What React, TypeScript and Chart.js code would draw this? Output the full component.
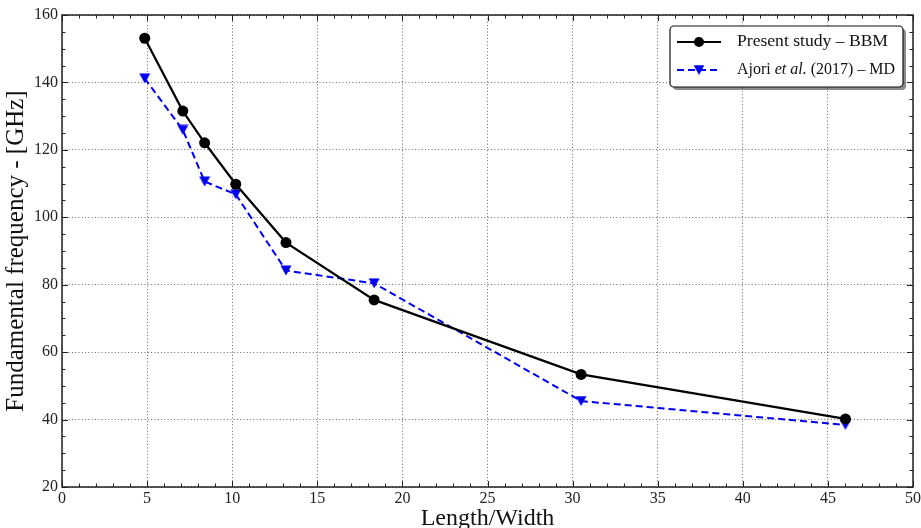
import React, { useEffect, useRef } from 'react';
import { Chart, registerables } from 'chart.js';

Chart.register(...registerables);

// ---- data ----
const lengthWidth = [4.86, 7.1, 8.38, 10.21, 13.16, 18.34, 30.5, 46.03];
const presentStudy = [153.1, 131.5, 122.1, 109.8, 92.5, 75.5, 53.4, 40.2];
const ajori = [141.2, 125.9, 110.6, 106.8, 84.2, 80.4, 45.5, 38.4];
const seriesLabels = ['Present study – BBM', 'Ajori et al. (2017) – MD'];
const xTickValues = [0, 5, 10, 15, 20, 25, 30, 35, 40, 45, 50];
const yTickValues = [20, 40, 60, 80, 100, 120, 140, 160];
const xMinorStep = 1;
const yMinorStep = 5;
const xTitle = 'Length/Width';
const yTitle = 'Fundamental frequency - [GHz]';

// ---- styles ----
const BLUE = '#0000f0';
const BLACK = '#000000';
const SERIF = '"Liberation Serif", "DejaVu Serif", serif';

export default function App() {
  const ref = useRef<HTMLCanvasElement>(null);

  useEffect(() => {
    const canvas = ref.current!;

    // down-pointing triangle marker, centred on its bounding box
    const tri = document.createElement('canvas');
    tri.width = 12;
    tri.height = 11;
    const tctx = tri.getContext('2d')!;
    tctx.fillStyle = BLUE;
    tctx.beginPath();
    tctx.moveTo(0.5, 0.5);
    tctx.lineTo(11.5, 0.5);
    tctx.lineTo(6, 10.5);
    tctx.closePath();
    tctx.fill();

    const decorPlugin = {
      id: 'decor',
      afterDraw(chart: any) {
        const ctx = chart.ctx as CanvasRenderingContext2D;
        const { left, right, top, bottom } = chart.chartArea;
        const xs = chart.scales.x;
        const ys = chart.scales.y;
        ctx.save();
        // inward ticks on all four sides
        ctx.strokeStyle = '#222';
        ctx.lineWidth = 1;
        ctx.beginPath();
        for (let v = xs.min; v <= xs.max + 1e-9; v += xMinorStep) {
          const major = xTickValues.includes(v);
          const len = major ? 6 : 3.5;
          const px = Math.round(xs.getPixelForValue(v)) + 0.5;
          ctx.moveTo(px, bottom);
          ctx.lineTo(px, bottom - len);
          ctx.moveTo(px, top);
          ctx.lineTo(px, top + len);
        }
        for (let v = ys.min; v <= ys.max + 1e-9; v += yMinorStep) {
          const major = yTickValues.includes(v);
          const len = major ? 6 : 3.5;
          const py = Math.round(ys.getPixelForValue(v)) + 0.5;
          ctx.moveTo(left, py);
          ctx.lineTo(left + len, py);
          ctx.moveTo(right, py);
          ctx.lineTo(right - len, py);
        }
        ctx.stroke();
        // frame
        ctx.lineWidth = 1.5;
        ctx.strokeStyle = '#222';
        ctx.strokeRect(left, top, right - left, bottom - top);

        // legend
        const bw = 233;
        const bh = 61;
        const bx = right - 10 - bw;
        const by = top + 11;
        const rr = 4;
        const rrect = (x: number, y: number) => {
          ctx.beginPath();
          ctx.moveTo(x + rr, y);
          ctx.lineTo(x + bw - rr, y);
          ctx.arcTo(x + bw, y, x + bw, y + rr, rr);
          ctx.lineTo(x + bw, y + bh - rr);
          ctx.arcTo(x + bw, y + bh, x + bw - rr, y + bh, rr);
          ctx.lineTo(x + rr, y + bh);
          ctx.arcTo(x, y + bh, x, y + bh - rr, rr);
          ctx.lineTo(x, y + rr);
          ctx.arcTo(x, y, x + rr, y, rr);
          ctx.closePath();
        };
        ctx.fillStyle = 'rgba(0,0,0,0.45)';
        rrect(bx + 3, by + 3);
        ctx.fill();
        ctx.fillStyle = '#fff';
        rrect(bx, by);
        ctx.fill();
        ctx.lineWidth = 1.2;
        ctx.strokeStyle = '#111';
        ctx.stroke();

        const rows = [by + 16, by + 44];
        const sx0 = bx + 7;
        const sx1 = bx + 51;
        const mx = bx + 29;
        // row 1
        ctx.lineWidth = 2;
        ctx.strokeStyle = BLACK;
        ctx.setLineDash([]);
        ctx.beginPath();
        ctx.moveTo(sx0, rows[0]);
        ctx.lineTo(sx1, rows[0]);
        ctx.stroke();
        ctx.fillStyle = BLACK;
        ctx.beginPath();
        ctx.arc(mx, rows[0], 5, 0, Math.PI * 2);
        ctx.fill();
        // row 2
        ctx.strokeStyle = BLUE;
        ctx.setLineDash([7, 4]);
        ctx.beginPath();
        ctx.moveTo(sx0, rows[1]);
        ctx.lineTo(sx1, rows[1]);
        ctx.stroke();
        ctx.setLineDash([]);
        ctx.drawImage(tri, mx - tri.width / 2, rows[1] - tri.height / 2);

        // texts, fitted horizontally to the reference widths
        const tx = bx + 67;
        const normal = `17px ${SERIF}`;
        const italic = `italic 17px ${SERIF}`;
        const drawFitted = (parts: [string, string][], x: number, y: number, target: number) => {
          let total = 0;
          for (const [t, f] of parts) {
            ctx.font = f;
            total += ctx.measureText(t).width;
          }
          const sx = target / total;
          ctx.save();
          ctx.translate(x, y);
          ctx.scale(sx, 1);
          let cx = 0;
          for (const [t, f] of parts) {
            ctx.font = f;
            ctx.fillText(t, cx, 0);
            cx += ctx.measureText(t).width;
          }
          ctx.restore();
        };
        ctx.fillStyle = '#111';
        ctx.textBaseline = 'middle';
        ctx.textAlign = 'left';
        drawFitted([[seriesLabels[0], normal]], tx, rows[0], 151);
        const lab = seriesLabels[1];
        const ital = 'et al.';
        const idx = lab.indexOf(ital);
        drawFitted(
          [
            [lab.slice(0, idx), normal],
            [ital, italic],
            [lab.slice(idx + ital.length), normal],
          ],
          tx,
          rows[1],
          158,
        );
        ctx.restore();
      },
    };

    const chart = new Chart(canvas, {
      type: 'line',
      data: {
        datasets: [
          {
            label: seriesLabels[0],
            data: lengthWidth.map((x, i) => ({ x, y: presentStudy[i] })),
            borderColor: BLACK,
            backgroundColor: BLACK,
            borderWidth: 2.2,
            pointRadius: 5.5,
            pointStyle: 'circle',
            pointBorderWidth: 0,
            tension: 0,
          },
          {
            label: seriesLabels[1],
            data: lengthWidth.map((x, i) => ({ x, y: ajori[i] })),
            borderColor: BLUE,
            backgroundColor: BLUE,
            borderWidth: 2,
            borderDash: [7, 4],
            pointRadius: 6,
            pointStyle: tri,
            tension: 0,
          },
        ],
      },
      options: {
        animation: false,
        responsive: false,
        events: [],
        layout: { padding: { top: 15, right: 8, left: 0, bottom: 0 } },
        plugins: {
          legend: { display: false },
          tooltip: { enabled: false },
        },
        scales: {
          x: {
            type: 'linear',
            min: 0,
            max: 50,
            afterBuildTicks: (s: any) => {
              s.ticks = xTickValues.map((v) => ({ value: v }));
            },
            afterFit: (s: any) => {
              s.height = 41;
              s.paddingLeft = 0;
              s.paddingRight = 0;
            },
            grid: {
              color: 'rgba(0,0,0,0.6)',
              lineWidth: 1,
              drawTicks: false,
            },
            border: { display: false, dash: [1, 2.3] },
            ticks: {
              padding: 2,
              color: '#222',
              font: { family: SERIF, size: 16 },
              maxRotation: 0,
              autoSkip: false,
            },
            title: {
              display: true,
              text: xTitle,
              color: '#111',
              font: { family: SERIF, size: 24, lineHeight: 0.8 },
              padding: { top: 0, bottom: 0 },
            },
          },
          y: {
            type: 'linear',
            min: 20,
            max: 160,
            afterBuildTicks: (s: any) => {
              s.ticks = yTickValues.map((v) => ({ value: v }));
            },
            afterFit: (s: any) => {
              s.width = 62;
            },
            grid: {
              color: 'rgba(0,0,0,0.6)',
              lineWidth: 1,
              drawTicks: false,
            },
            border: { display: false, dash: [1, 2.3] },
            ticks: {
              padding: 4,
              color: '#222',
              font: { family: SERIF, size: 16 },
              autoSkip: false,
            },
            title: {
              display: true,
              text: yTitle,
              color: '#111',
              font: { family: SERIF, size: 25, lineHeight: 1.2 },
              padding: { top: 1.5, bottom: 0 },
            },
          },
        },
      },
      plugins: [decorPlugin],
    } as any);

    return () => chart.destroy();
  }, []);

  return (
    <div style={{ position: 'fixed', left: 0, top: 0, width: 921, height: 528, background: '#fff' }}>
      <canvas ref={ref} width={921} height={528} style={{ display: 'block' }} />
    </div>
  );
}
